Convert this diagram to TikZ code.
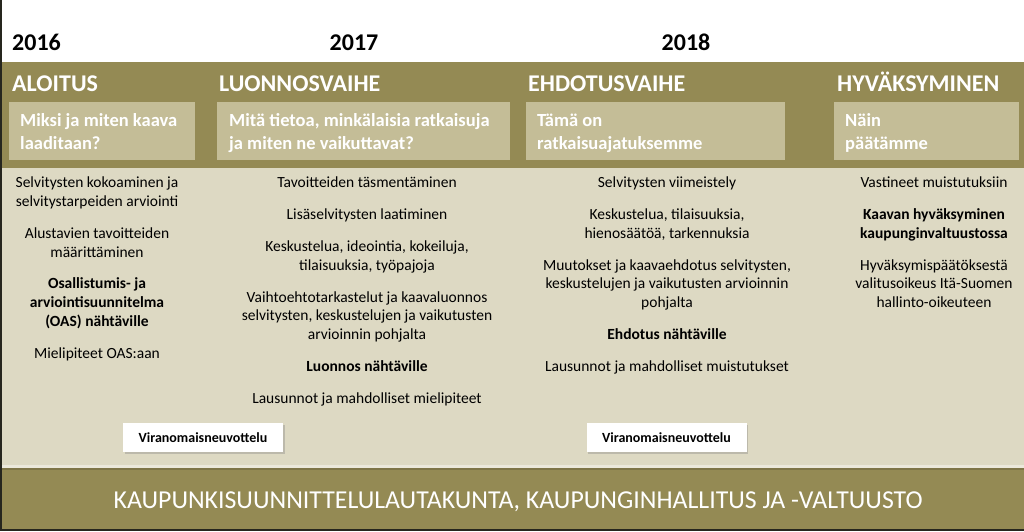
\documentclass[tikz,border=0pt]{standalone}
\usepackage{fontspec}
\setmainfont{Carlito}
\usetikzlibrary{positioning,shadows}
\definecolor{band}{RGB}{148,138,84}
\definecolor{tanbox}{RGB}{196,189,151}
\definecolor{pane}{RGB}{221,217,195}
\definecolor{rim}{RGB}{38,38,30}
\begin{document}
\begin{tikzpicture}[x=1pt,y=-1pt,
    year/.style={font=\fontsize{24}{28}\selectfont\bfseries, inner sep=0pt, anchor=base},
    phase/.style={font=\fontsize{24}{28}\selectfont\bfseries, text=white, inner sep=0pt},
    question/.style={fill=tanbox, minimum height=58pt, inner sep=0pt, anchor=north west},
    qtext/.style={font=\fontsize{18.5}{23}\selectfont\bfseries, text=white, align=left, inner sep=0pt, anchor=base west},
    task/.style={font=\fontsize{15.5}{18.7}\selectfont, align=center, inner sep=0pt, anchor=north},
    meeting/.style={fill=white, minimum width=160pt, minimum height=29pt, font=\fontsize{14}{16}\selectfont\bfseries,
        drop shadow={shadow xshift=1.5pt, shadow yshift=-1.5pt, opacity=0.35}},
    board/.style={font=\fontsize{25.8}{30}\selectfont, text=white, inner sep=0pt, anchor=base}]
    \useasboundingbox (0,0) rectangle (1024,531);
    \fill[white] (0,0) rectangle (1024,62);
    \fill[band]  (0,62) rectangle (1024,168);
    \fill[pane]  (0,168) rectangle (1024,468);
    \fill[pane!60!white] (0,465) rectangle (1024,468);
    \fill[band]  (0,468) rectangle (1024,529);
    \fill[band!85!black] (0,468) rectangle (1024,470);
    \fill[rim]   (0,0) rectangle (2,531);
    \fill[rim]   (0,529) rectangle (1024,531);

    \node[year, anchor=base west] (y2016) at (12,50)  {2016};
    \node[year]                   (y2017) at (354,50) {2017};
    \node[year]                   (y2018) at (686,50) {2018};

    \node[question, minimum width=186pt] (q1) at (9,102)   {};
    \node[question, minimum width=293pt] (q2) at (217,102) {};
    \node[question, minimum width=259pt] (q3) at (526,102) {};
    \node[question, minimum width=185pt] (q4) at (834,102) {};

    \node[phase, above=11pt of q1.north west, anchor=base west, xshift=3pt] (aloitus) {ALOITUS};
    \node[phase, above=11pt of q2.north west, anchor=base west, xshift=2pt] (luonnos) {LUONNOSVAIHE};
    \node[phase, above=11pt of q3.north west, anchor=base west, xshift=2pt] (ehdotus) {EHDOTUSVAIHE};
    \node[phase, above=11pt of q4.north west, anchor=base west, xshift=3pt] (hyvaks)  {HYVÄKSYMINEN};

    \node[qtext] (m1) at ([shift={(11pt,-47pt)}]q1.north west) {Miksi ja miten kaava\\laaditaan?};
    \node[qtext] (m2) at ([shift={(12pt,-47pt)}]q2.north west) {Mitä tietoa, minkälaisia ratkaisuja\\ja miten ne vaikuttavat?};
    \node[qtext] (m3) at ([shift={(11pt,-47pt)}]q3.north west) {Tämä on\\ratkaisuajatuksemme};
    \node[qtext] (m4) at ([shift={(11pt,-47pt)}]q4.north west) {Näin\\päätämme};

    \node[task] (c1) at (97,177) {Selvitysten kokoaminen ja\\selvitystarpeiden arviointi\\[13.1pt]
        Alustavien tavoitteiden\\määrittäminen\\[13.1pt]
        \textbf{Osallistumis- ja}\\\textbf{arviointisuunnitelma}\\\textbf{(OAS) nähtäville}\\[13.1pt]
        Mielipiteet OAS:aan};
    \node[task] (c2) at (367,177) {Tavoitteiden täsmentäminen\\[13.1pt]
        Lisäselvitysten laatiminen\\[13.1pt]
        Keskustelua, ideointia, kokeiluja,\\tilaisuuksia, työpajoja\\[13.1pt]
        Vaihtoehtotarkastelut ja kaavaluonnos\\selvitysten, keskustelujen ja vaikutusten\\arvioinnin pohjalta\\[13.1pt]
        \textbf{Luonnos nähtäville}\\[13.1pt]
        Lausunnot ja mahdolliset mielipiteet};
    \node[task] (c3) at (667,177) {Selvitysten viimeistely\\[13.1pt]
        Keskustelua, tilaisuuksia,\\hienosäätöä, tarkennuksia\\[13.1pt]
        Muutokset ja kaavaehdotus selvitysten,\\keskustelujen ja vaikutusten arvioinnin\\pohjalta\\[13.1pt]
        \textbf{Ehdotus nähtäville}\\[13.1pt]
        Lausunnot ja mahdolliset muistutukset};
    \node[task] (c4) at (934,177) {Vastineet muistutuksiin\\[13.1pt]
        \textbf{Kaavan hyväksyminen}\\\textbf{kaupunginvaltuustossa}\\[13.1pt]
        Hyväksymispäätöksestä\\valitusoikeus Itä-Suomen\\hallinto-oikeuteen};

    \node[meeting] (v1) at (203,437.5)   {Viranomaisneuvottelu};
    \node[meeting] (v2) at (666.5,437.5) {Viranomaisneuvottelu};

    \node[board] (kh) at (518,508) {KAUPUNKISUUNNITTELULAUTAKUNTA, KAUPUNGINHALLITUS JA -VALTUUSTO};
\end{tikzpicture}
\end{document}
